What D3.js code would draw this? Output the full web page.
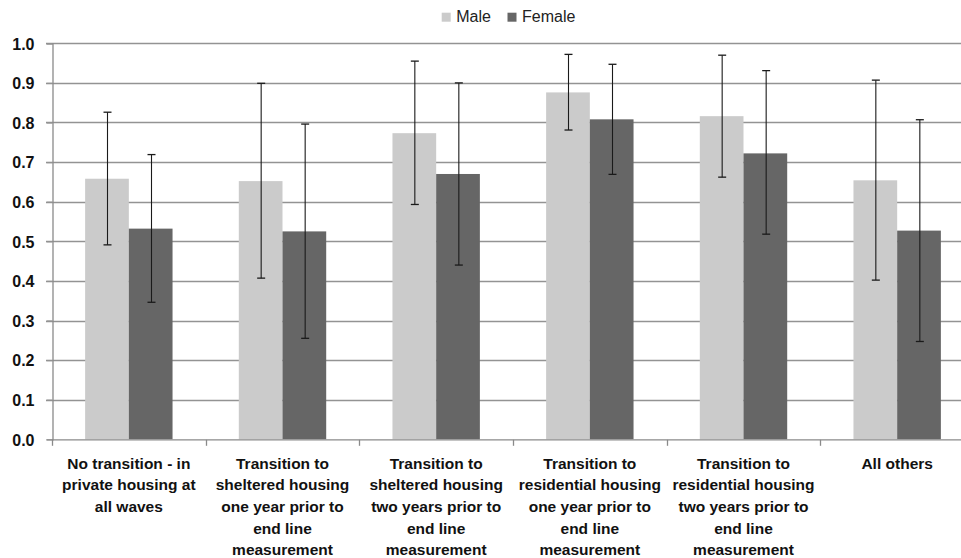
<!DOCTYPE html>
<html><head><meta charset="utf-8">
<script src="https://cdn.jsdelivr.net/npm/d3@7/dist/d3.min.js"></script>
<style>
html,body{margin:0;padding:0;background:#fff;overflow:hidden}
svg{display:block}
text{font-family:"Liberation Sans",Arial,sans-serif}
</style></head>
<body>
<svg id="chart" width="961" height="558"></svg>
<script>
const categories = [
  ["No transition - in","private housing at","all waves"],
  ["Transition to","sheltered housing","one year prior to","end line","measurement"],
  ["Transition to","sheltered housing","two years prior to","end line","measurement"],
  ["Transition to","residential housing","one year prior to","end line","measurement"],
  ["Transition to","residential housing","two years prior to","end line","measurement"],
  ["All others"]
];
const seriesNames = ["Male","Female"];
const maleValues   = [0.658, 0.652, 0.773, 0.876, 0.816, 0.654];
const maleLow      = [0.491, 0.407, 0.593, 0.781, 0.662, 0.402];
const maleHigh     = [0.826, 0.899, 0.955, 0.972, 0.970, 0.907];
const femaleValues = [0.532, 0.525, 0.670, 0.808, 0.722, 0.527];
const femaleLow    = [0.346, 0.255, 0.440, 0.669, 0.518, 0.247];
const femaleHigh   = [0.719, 0.796, 0.900, 0.947, 0.931, 0.807];
const yTicks = [0.0,0.1,0.2,0.3,0.4,0.5,0.6,0.7,0.8,0.9,1.0];

const colors = {Male:"#cbcbcb", Female:"#666666"};
const svg = d3.select("#chart");
const mLeft = 52, mTop = 43.3, mBottom = 439.3, mRight = 974;

const idx = d3.range(categories.length);
const x0 = d3.scaleBand().domain(idx).range([mLeft, mRight]).paddingInner(0).paddingOuter(0);
const x1 = d3.scaleBand().domain(seriesNames).range([0, x0.bandwidth()]).paddingInner(0).paddingOuter(0.758);
const y = d3.scaleLinear().domain([0,1]).range([mBottom, mTop]);

// gridlines
const grid = svg.append("g");
grid.selectAll("line").data(yTicks.filter(t=>t>0)).join("line")
  .attr("x1", mLeft-6).attr("x2", 961)
  .attr("y1", d=>Math.round(y(d))+0.5).attr("y2", d=>Math.round(y(d))+0.5)
  .attr("stroke","#939393").attr("stroke-width",1.3);

// y axis
const yAxis = d3.axisLeft(y).tickValues(yTicks).tickFormat(d3.format(".1f")).tickSize(6).tickPadding(5);
const gy = svg.append("g").attr("transform",`translate(${mLeft+0.5},0)`).call(yAxis);
gy.select(".domain").attr("stroke","#8a8a8a").attr("stroke-width",1.3);
gy.selectAll(".tick line").attr("stroke","#939393").attr("stroke-width",1.3);
gy.selectAll(".tick text").attr("font-size","16px").attr("font-weight","bold").attr("fill","#111")
  .attr("x",-18).attr("dy","0.36em");

const data = idx.map(i => ({
  i,
  vals: [
    {s:"Male", v:maleValues[i], lo:maleLow[i], hi:maleHigh[i]},
    {s:"Female", v:femaleValues[i], lo:femaleLow[i], hi:femaleHigh[i]}
  ]
}));

const groups = svg.append("g").selectAll("g").data(data).join("g")
  .attr("transform", d=>`translate(${x0(d.i)},0)`);
groups.selectAll("rect").data(d=>d.vals).join("rect")
  .attr("x", d=>x1(d.s)).attr("width", x1.bandwidth())
  .attr("y", d=>y(d.v)).attr("height", d=>y(0)-y(d.v))
  .attr("fill", d=>colors[d.s]);

// error bars
const eb = groups.selectAll("g.err").data(d=>d.vals).join("g").attr("class","err")
  .attr("transform", d=>`translate(${Math.round(x1(d.s)+x1.bandwidth()/2)+0.5},0)`);
eb.append("line").attr("x1",0).attr("x2",0).attr("y1",d=>y(d.hi)).attr("y2",d=>y(d.lo))
  .attr("stroke","#1a1a1a").attr("stroke-width",1.1);
eb.append("line").attr("x1",-4).attr("x2",4).attr("y1",d=>y(d.hi)).attr("y2",d=>y(d.hi))
  .attr("stroke","#1a1a1a").attr("stroke-width",1.3);
eb.append("line").attr("x1",-4).attr("x2",4).attr("y1",d=>y(d.lo)).attr("y2",d=>y(d.lo))
  .attr("stroke","#1a1a1a").attr("stroke-width",1.3);

// x axis
const gx = svg.append("g").attr("transform",`translate(0,${mBottom+0.5})`);
gx.append("line").attr("x1",mLeft).attr("x2",961).attr("stroke","#8a8a8a").attr("stroke-width",1.3);
gx.selectAll("line.tk").data(d3.range(categories.length+1)).join("line").attr("class","tk")
  .attr("x1", d=>Math.round(mLeft + d*x0.step())+0.5).attr("x2", d=>Math.round(mLeft + d*x0.step())+0.5)
  .attr("y1",0).attr("y2",6).attr("stroke","#8a8a8a").attr("stroke-width",1.3);

const labels = svg.append("g").selectAll("text").data(data).join("text")
  .attr("text-anchor","middle").attr("font-size","15.5px").attr("font-weight","bold").attr("fill","#111")
  .attr("x", d=>x0(d.i)+x0.bandwidth()/2).attr("y", 468.5);
labels.selectAll("tspan").data(d=>categories[d.i].map((t,k)=>({t,k,x:x0(d.i)+x0.bandwidth()/2}))).join("tspan")
  .attr("x", d=>d.x).attr("y", d=>468.5 + d.k*21.7).text(d=>d.t);

// legend
const leg = svg.append("g");
const legItems = [{s:"Male", x:441.7}, {s:"Female", x:507.5}];
leg.selectAll("rect").data(legItems).join("rect")
  .attr("x", d=>d.x).attr("y", 12.7).attr("width", 9).attr("height", 9)
  .attr("fill", d=>colors[d.s]);
leg.selectAll("text").data(legItems).join("text")
  .attr("x", d=>d.x+14.5).attr("y", 22.3).attr("font-size","16px").attr("fill","#222")
  .text(d=>d.s);
</script>
</body></html>
